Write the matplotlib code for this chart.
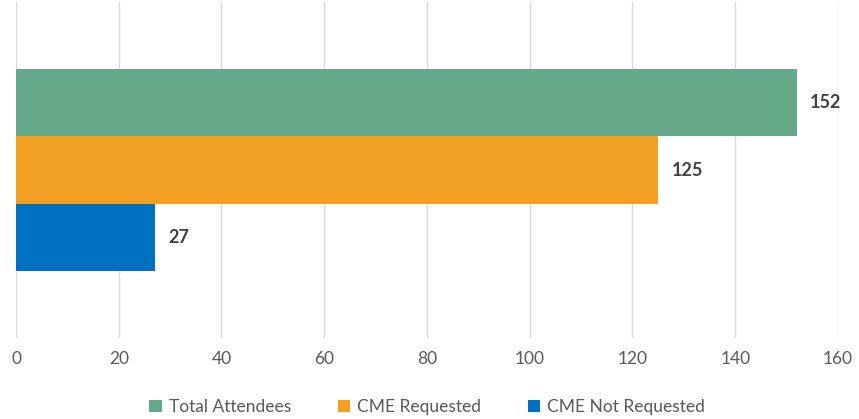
import matplotlib.pyplot as plt
import numpy as np

series = ['Total Attendees', 'CME Requested', 'CME Not Requested']
values = [152, 125, 27]
colors = ['#64A98A', '#F2A024', '#0070C0']
xticks = [0, 20, 40, 60, 80, 100, 120, 140, 160]

plt.rcParams['font.family'] = ['Lato', 'DejaVu Sans']

fig = plt.figure(figsize=(8.59, 4.19), dpi=100)
ax = fig.add_axes([16 / 859, 1 - 338 / 419, 822 / 859, 336 / 419])

h = 0.2
offsets = [h, 0, -h]
for name, v, c, off in zip(series, values, colors, offsets):
    ax.barh(off, v, height=h, color=c, label=name, zorder=2)
    ax.text(v + 2.6, off, str(v), va='center', ha='left', fontsize=13,
            fontweight='bold', color='#404040')

ax.set_xlim(0, 160)
ax.set_ylim(-0.5, 0.5)
ax.set_xticks(xticks)
ax.set_yticks([])
ax.grid(axis='x', color='#D9D9D9', linewidth=1, zorder=0)
for s in ax.spines.values():
    s.set_visible(False)
ax.tick_params(axis='x', length=0, pad=9, labelsize=12.5, labelcolor='#595959')

leg = ax.legend(loc='upper center', bbox_to_anchor=(0.5, -0.135), ncol=3,
                frameon=False, fontsize=12.5, handlelength=0.7, handleheight=0.7,
                columnspacing=2.7, handletextpad=0.4)
for t in leg.get_texts():
    t.set_color('#595959')

fig.savefig('out.png', dpi=100)
